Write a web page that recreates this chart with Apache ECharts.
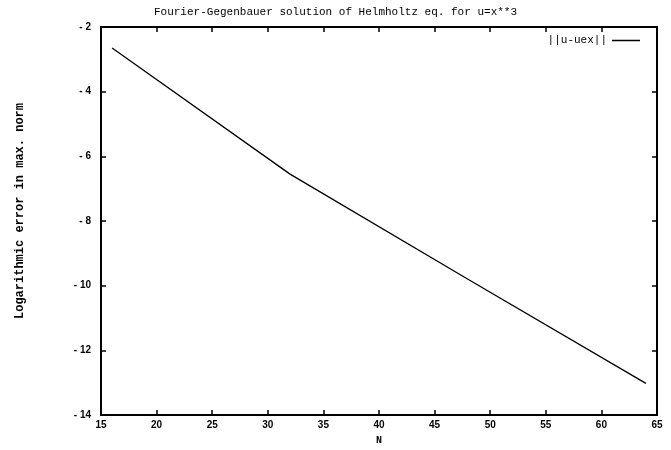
<!DOCTYPE html>
<html>
<head>
<meta charset="utf-8">
<script src="https://cdn.jsdelivr.net/npm/echarts@6/dist/echarts.min.js"></script>
<style>
  html, body { margin: 0; padding: 0; background: #fff; }
  #main { width: 671px; height: 450px; }
</style>
</head>
<body>
<div id="main"></div>
<script>
// data
var nValues = [16, 32, 48, 64];
var errValues = [-2.65, -6.55, -9.8, -13.02];
var xTicks = [15, 20, 25, 30, 35, 40, 45, 50, 55, 60, 65];
var yTicks = [-14, -12, -10, -8, -6, -4, -2];

var mono = '"Liberation Mono", "DejaVu Sans Mono", monospace';
var lbl = {
    color: '#000',
    fontFamily: '"Liberation Sans", Arial, sans-serif',
    fontWeight: 'bold',
    fontSize: 10
};

// label "-2" shown as "- 2" like in the scan
function fmtY(v) { return v < 0 ? '- ' + Math.abs(v) : String(v); }

var myChart = echarts.init(document.getElementById('main'));

var tickStyle = { show: true, inside: true, length: 5, lineStyle: { color: '#000', width: 1.5 } };

var option = {
    backgroundColor: '#fff',
    animation: false,
    title: {
        text: 'Fourier-Gegenbauer solution of Helmholtz eq. for u=x**3',
        left: 'center',
        top: 2,
        textStyle: { fontFamily: mono, fontSize: 11, fontWeight: 'normal', color: '#000' }
    },
    legend: {
        data: ['||u-uex||'],
        right: 26,
        top: 30,
        align: 'right',
        icon: 'rect',
        itemWidth: 28,
        itemHeight: 1.5,
        itemGap: 4,
        textStyle: { fontFamily: mono, fontSize: 11, color: '#000' }
    },
    grid: {
        left: 101, right: 14, top: 27, bottom: 33,
        show: true,
        borderColor: '#000',
        borderWidth: 2
    },
    xAxis: [{
        type: 'value',
        min: 15, max: 65, interval: 5,
        name: 'N',
        nameLocation: 'middle',
        nameGap: 18,
        nameTextStyle: { fontFamily: mono, fontSize: 10, fontWeight: 'bold', color: '#000' },
        axisLine: { show: true, lineStyle: { color: '#000', width: 2 } },
        axisTick: tickStyle,
        axisLabel: Object.assign({ margin: 5, formatter: function (v) {
            return xTicks.indexOf(v) >= 0 ? String(v) : '';
        } }, lbl),
        splitLine: { show: false }
    }, {
        type: 'value',
        position: 'top',
        min: 15, max: 65, interval: 5,
        axisLine: { show: true, lineStyle: { color: '#000', width: 2 } },
        axisTick: tickStyle,
        axisLabel: { show: false },
        splitLine: { show: false }
    }],
    yAxis: [{
        type: 'value',
        min: -14, max: -2, interval: 2,
        axisLine: { show: true, lineStyle: { color: '#000', width: 2 } },
        axisTick: tickStyle,
        axisLabel: Object.assign({ margin: 10, formatter: function (v) {
            return yTicks.indexOf(v) >= 0 ? fmtY(v) : '';
        } }, lbl),
        splitLine: { show: false }
    }, {
        type: 'value',
        position: 'right',
        min: -14, max: -2, interval: 2,
        axisLine: { show: true, lineStyle: { color: '#000', width: 2 } },
        axisTick: tickStyle,
        axisLabel: { show: false },
        splitLine: { show: false }
    }],
    graphic: [{
        type: 'text',
        x: 20,
        y: 211,
        rotation: Math.PI / 2,
        style: {
            text: 'Logarithmic error in max. norm',
            fontFamily: mono,
            fontSize: 12,
            fontWeight: 'bold',
            fill: '#000',
            align: 'center',
            verticalAlign: 'middle'
        }
    }],
    series: [{
        name: '||u-uex||',
        type: 'line',
        data: nValues.map(function (n, i) { return [n, errValues[i]]; }),
        showSymbol: false,
        symbol: 'none',
        lineStyle: { color: '#000', width: 1.3 },
        itemStyle: { color: '#000' }
    }]
};

myChart.setOption(option);
</script>
</body>
</html>
